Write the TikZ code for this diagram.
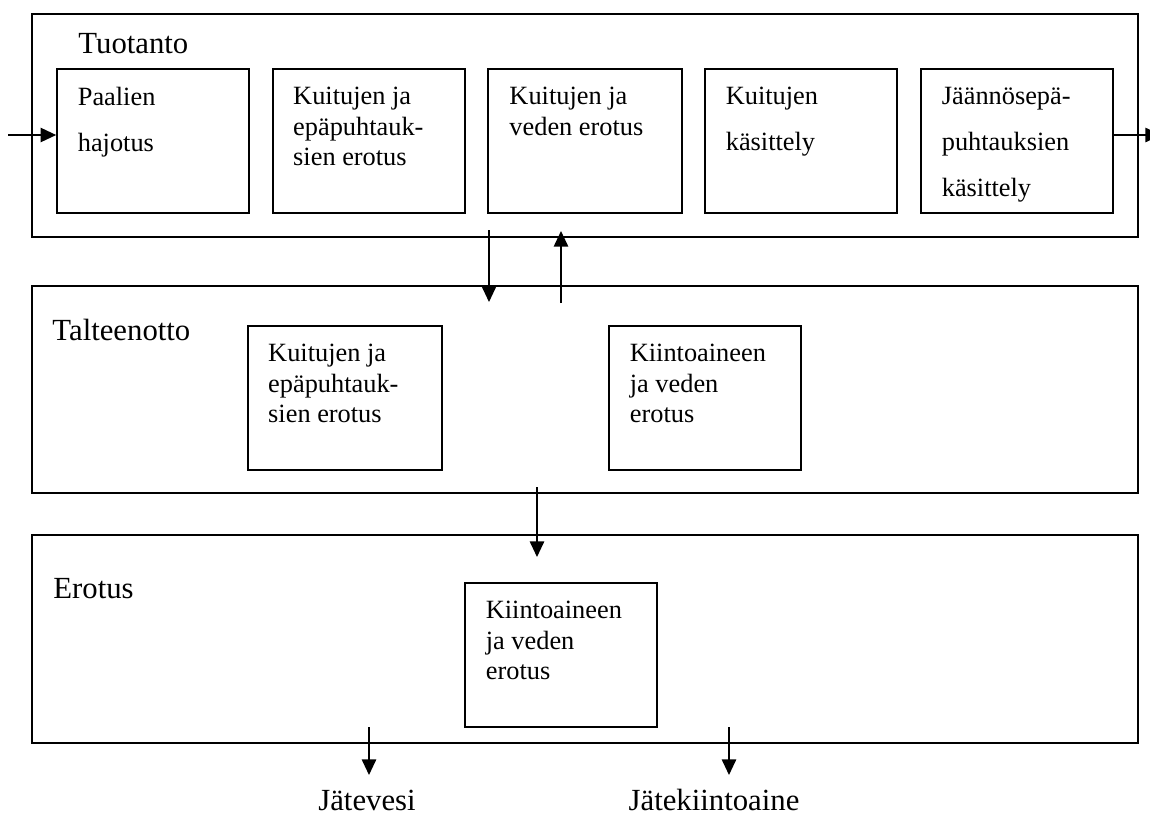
\documentclass[tikz,border=0pt]{standalone}
\usepackage{fontspec}
\setmainfont{Liberation Serif}
\usetikzlibrary{arrows.meta,positioning,fit}

\begin{document}
\begin{tikzpicture}[
  x=0.016cm,y=-0.016cm,
  stage/.style={draw,line width=1pt,inner sep=0pt},
  unit/.style={draw,line width=0.75pt,inner sep=0pt},
  stagename/.style={anchor=base west,inner sep=0pt,font=\fontsize{14}{16}\selectfont},
  txt/.style={inner sep=0pt,align=left,font=\fontsize{12}{13.8}\selectfont},
  widetxt/.style={txt,font=\fontsize{12}{21}\selectfont},
  flow/.style={->,line width=0.7pt},
  >={Triangle[length=2.5mm,width=2.3mm]}
]
\useasboundingbox (0,0) rectangle (1150,816);

\node[stage,fit={(32,14) (1138,237)}] (tuot) {};
\node[stage,fit={(32,286) (1138,493)}] (talt) {};
\node[stage,fit={(32,535) (1138,743)}] (erot) {};
\node[stagename] (tuotname) at (78,53) {Tuotanto};
\node[stagename] (taltname) at (52,340) {Talteenotto};
\node[stagename] (erotname) at (53,598) {Erotus};

\node[unit,fit={(57,69) (249,213)}] (p1) {};
\node[unit,fit={(273,69) (465,213)}] (p2) {};
\node[unit,fit={(488,69) (682,213)}] (p3) {};
\node[unit,fit={(705,69) (897,213)}] (p4) {};
\node[unit,fit={(921,69) (1113,213)}] (p5) {};
\node[unit,fit={(248,326) (442,470)}] (t1) {};
\node[unit,fit={(609,326) (801,470)}] (t2) {};
\node[unit,fit={(465,583) (657,727)}] (e1) {};

\node[widetxt,below right=3mm and 3.4mm of p1.north west] (p1txt) {Paalien\\hajotus};
\node[txt,below right=3mm and 3.3mm of p2.north west] (p2txt) {Kuitujen ja\\epäpuhtauk-\\sien erotus};
\node[txt,below right=3mm and 3.5mm of p3.north west] (p3txt) {Kuitujen ja\\veden erotus};
\node[widetxt,below right=3mm and 3.4mm of p4.north west] (p4txt) {Kuitujen\\käsittely};
\node[widetxt,below right=3mm and 3.4mm of p5.north west] (p5txt) {Jäännösepä-\\puhtauksien\\käsittely};
\node[txt,below right=3mm and 3.3mm of t1.north west] (t1txt) {Kuitujen ja\\epäpuhtauk-\\sien erotus};
\node[txt,below right=3mm and 3.4mm of t2.north west] (t2txt) {Kiintoaineen\\ja veden\\erotus};
\node[txt,below right=3mm and 3.4mm of e1.north west] (e1txt) {Kiintoaineen\\ja veden\\erotus};

\node[stagename,anchor=base] (jv) at (367,810) {Jätevesi};
\node[stagename,anchor=base] (jk) at (714,810) {Jätekiintoaine};

\coordinate (in) at (8,135);
\coordinate (out) at (1161,135);
\coordinate (dn1) at (489,230);
\coordinate (dn2) at (489,302);
\coordinate (up1) at (561,303);
\coordinate (up2) at (561,231);
\coordinate (dn3) at (537,487);
\coordinate (dn4) at (537,557);
\coordinate (jv1) at (369,727);
\coordinate (jv2) at (369,775);
\coordinate (jk1) at (729,727);
\coordinate (jk2) at (729,775);

\draw[flow] (in) -- (in -| p1.west);
\draw[flow] (p5.east |- out) -- (out);
\draw[flow] (dn1) -- (dn2);
\draw[flow] (up1) -- (up2);
\draw[flow] (dn3) -- (dn4);
\draw[flow] (jv1) -- (jv2);
\draw[flow] (jk1) -- (jk2);
\end{tikzpicture}
\end{document}
